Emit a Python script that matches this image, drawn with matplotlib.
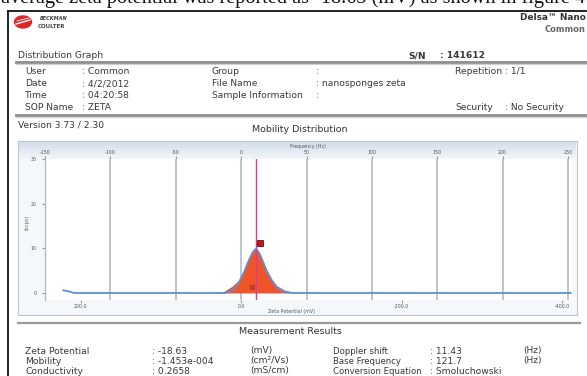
import numpy as np
import matplotlib.pyplot as plt
from matplotlib.patches import Rectangle, Ellipse
from matplotlib.colors import LinearSegmentedColormap

# ---- data ----
freq_fill = [-18.4, -13.0, -6.9, -1.5, 2.3, 6.1, 9.2, 11.4, 13.8, 16.8, 19.9, 23.7, 27.5, 32.9, 41.3]
int_fill = [0.0, 0.4, 1.5, 3.0, 5.1, 7.8, 9.4, 9.8, 9.0, 7.0, 5.1, 3.0, 1.6, 0.7, 0.0]

freq_line = [-136, -131, -128, -60, -12, -6, -2, 2, 6, 9, 11.4, 14, 17, 20, 24, 28, 33, 40, 252]
int_line = [0.6, 0.3, 0.0, 0.0, 0.0, 0.6, 2.2, 4.5, 7.4, 9.2, 9.9, 8.9, 6.8, 4.6, 2.5, 1.0, 0.2, 0.0, 0.0]

freq_ticks = [-150, -100, -50, 0, 50, 100, 150, 200, 250]
zeta_ticks = [200, 0, -200, -400]
y_ticks = [0, 10, 20, 30]

doppler_shift = 11.43
zeta_potential = -18.63
hz_per_mv = doppler_shift / zeta_potential  # negative

peak_marker = (14.5, 11.1)
base_marker = (8.4, 1.3)

header_left = [("User", ": Common"), ("Date", ": 4/2/2012"), ("Time", ": 04:20:58"), ("SOP Name", ": ZETA")]
header_mid = [("Group", ":"), ("File Name", ": nanosponges zeta"), ("Sample Information", ":")]
results_left = [("Zeta Potential", ": -18.63", "(mV)"), ("Mobility", ": -1.453e-004", "(cm\u00b2/Vs)"),
                ("Conductivity", ": 0.2658", "(mS/cm)")]
results_right = [("Doppler shift", ": 11.43", "(Hz)"), ("Base Frequency", ": 121.7", "(Hz)"),
                 ("Conversion Equation", ": Smoluchowski", "")]

W, H = 587, 376
fig = plt.figure(figsize=(W / 100, H / 100), dpi=100)

# page overlay in pixel coordinates
ax0 = fig.add_axes([0, 0, 1, 1], zorder=0)
ax0.set_xlim(0, W)
ax0.set_ylim(H, 0)
ax0.axis("off")

tc = "#383838"
fs = 6.6

# sentence of the surrounding page, cut off at the top edge
ax0.text(1, 3.2, "average zeta potential was reported as -18.63 (mV) as shown in figure 4",
         family="Liberation Serif", fontsize=14.6, color="#111111", va="baseline", ha="left")

# report frame
ax0.plot([8, W + 5], [11, 11], color="#111111", lw=1.3)
ax0.plot([8, 8], [11, H + 5], color="#111111", lw=1.3)

# logo
ax0.add_patch(Ellipse((23, 22), 17, 12, color="#e0262b"))
ax0.plot([16, 30], [24, 20], color="white", lw=1.0)
ax0.plot([17, 29], [21, 18], color="white", lw=0.6)
ax0.text(40, 19, "BECKMAN", fontsize=3.6, style="italic", weight="bold", color="#444444", va="center")
ax0.text(38, 26, "COULTER", fontsize=4.0, weight="bold", color="#444444", va="center")

ax0.text(520, 18, "Delsa\u2122 Nano", fontsize=6.4, weight="bold", color="#333333", va="center")
ax0.text(545, 30, "Common", fontsize=6.0, weight="bold", color="#666666", va="center")

ax0.text(18, 56, "Distribution Graph", fontsize=fs, color=tc, va="center")
ax0.text(408, 56, "S/N", fontsize=fs, color=tc, va="center", weight="bold")
ax0.text(440, 56, ": 141612", fontsize=fs, color=tc, va="center", weight="bold")

for yy in (62, 115):
    ax0.plot([16, W + 5], [yy, yy], color="#8e8e8e", lw=2.0)
    ax0.plot([16, W + 5], [yy + 2, yy + 2], color="#cfcfcf", lw=0.8)

rows_y = [72, 84, 96, 107]
for (lab, val), yy in zip(header_left, rows_y):
    ax0.text(25, yy, lab, fontsize=fs, color=tc, va="center")
    ax0.text(82, yy, val, fontsize=fs, color=tc, va="center")
for (lab, val), yy in zip(header_mid, rows_y):
    ax0.text(212, yy, lab, fontsize=fs, color=tc, va="center")
    ax0.text(316, yy, val, fontsize=fs, color=tc, va="center")
ax0.text(455, 72, "Repetition : 1/1", fontsize=fs, color=tc, va="center")
ax0.text(455, 107, "Security", fontsize=fs, color=tc, va="center")
ax0.text(505, 107, ": No Security", fontsize=fs, color=tc, va="center")

ax0.text(18, 125, "Version 3.73 / 2.30", fontsize=fs, color=tc, va="center")
ax0.text(300, 130, "Mobility Distribution", fontsize=6.8, color="#333333", va="center", ha="center")

# graph panel with gradient header band
ax0.add_patch(Rectangle((18, 141), 559, 174, facecolor="#f5f8fb", edgecolor="#b9c5d3", lw=0.8))
band = LinearSegmentedColormap.from_list("band", ["#d3deea", "#f2f6fa"])
grad = np.linspace(0, 1, 50).reshape(-1, 1)
ax0.imshow(grad, extent=(19, 576, 159, 142), cmap=band, aspect="auto", zorder=1)
ax0.text(308, 146.5, "Frequency (Hz)", fontsize=3.4, color="#555555", va="center", ha="center", zorder=3)
ax0.text(292, 311, "Zeta Potential (mV)", fontsize=3.4, color="#555555", va="center", ha="center")
ax0.text(27, 222, "(kcps)", fontsize=3.6, color="#666666", va="center", ha="center", rotation=90)

# measurement results
ax0.plot([18, 580], [323, 323], color="#9a9a9a", lw=1.6)
ax0.text(290, 332, "Measurement Results", fontsize=6.8, color="#333333", va="center", ha="center")
res_y = [351, 361, 371]
for (lab, val, unit), yy in zip(results_left, res_y):
    ax0.text(25, yy, lab, fontsize=fs, color=tc, va="center")
    ax0.text(152, yy, val, fontsize=fs, color=tc, va="center")
    ax0.text(250, yy, unit, fontsize=fs, color=tc, va="center")
for (lab, val, unit), yy in zip(results_right, res_y):
    ax0.text(333, yy, lab, fontsize=6.1, color=tc, va="center")
    ax0.text(430, yy, val, fontsize=fs, color=tc, va="center")
    ax0.text(523, yy, unit, fontsize=fs, color=tc, va="center")

# ---- distribution plot ----
left, right, top, bottom = 45, 572, 159, 300
ax = fig.add_axes([left / W, 1 - bottom / H, (right - left) / W, (bottom - top) / H], zorder=2)
ax.set_facecolor("white")
ax.set_xlim(-150, -150 + (right - left) / 1.3075)
ax.set_ylim(-1.57, 30)

for f in freq_ticks[1:]:
    ax.axvline(f, color="#b4bac1", lw=1.2, zorder=1)
ax.fill_between(freq_fill, int_fill, color="#f0552a", zorder=2, lw=0)
ax.plot(freq_line, int_line, color="#5b8fd6", lw=1.3, zorder=3)
ax.axvline(doppler_shift, color="#d63c96", lw=1.0, zorder=4)
ax.plot(*peak_marker, marker="s", ms=5, mfc="#c0161c", mec="#6a1010", mew=0.6, zorder=5)
ax.plot(*base_marker, marker="s", ms=3, mfc="#b83a24", mec="#b83a24", alpha=0.8, zorder=5)

for s in ("top", "right", "bottom"):
    ax.spines[s].set_visible(False)
ax.spines["left"].set_color("#b4bac1")
ax.spines["left"].set_linewidth(1.0)
ax.set_yticks(y_ticks)
ax.set_yticklabels([str(v) for v in y_ticks])
ax.tick_params(axis="y", labelsize=3.4, labelcolor="#555555", length=2, color="#999999", pad=4)
ax.set_xticks([])

top_ax = ax.secondary_xaxis("top")
top_ax.set_xticks(freq_ticks)
top_ax.set_xticklabels([str(v) for v in freq_ticks])
top_ax.tick_params(labelsize=3.4, labelcolor="#555555", length=2, color="#999999", pad=1)
top_ax.spines["top"].set_visible(False)

bot_ax = ax.secondary_xaxis("bottom", functions=(lambda f: f / hz_per_mv, lambda z: z * hz_per_mv))
bot_ax.set_xticks(zeta_ticks)
bot_ax.set_xticklabels(["%.1f" % v for v in zeta_ticks])
bot_ax.tick_params(labelsize=3.4, labelcolor="#555555", length=2, color="#999999", pad=1)
bot_ax.spines["bottom"].set_visible(False)

fig.savefig("out.png", dpi=100)
